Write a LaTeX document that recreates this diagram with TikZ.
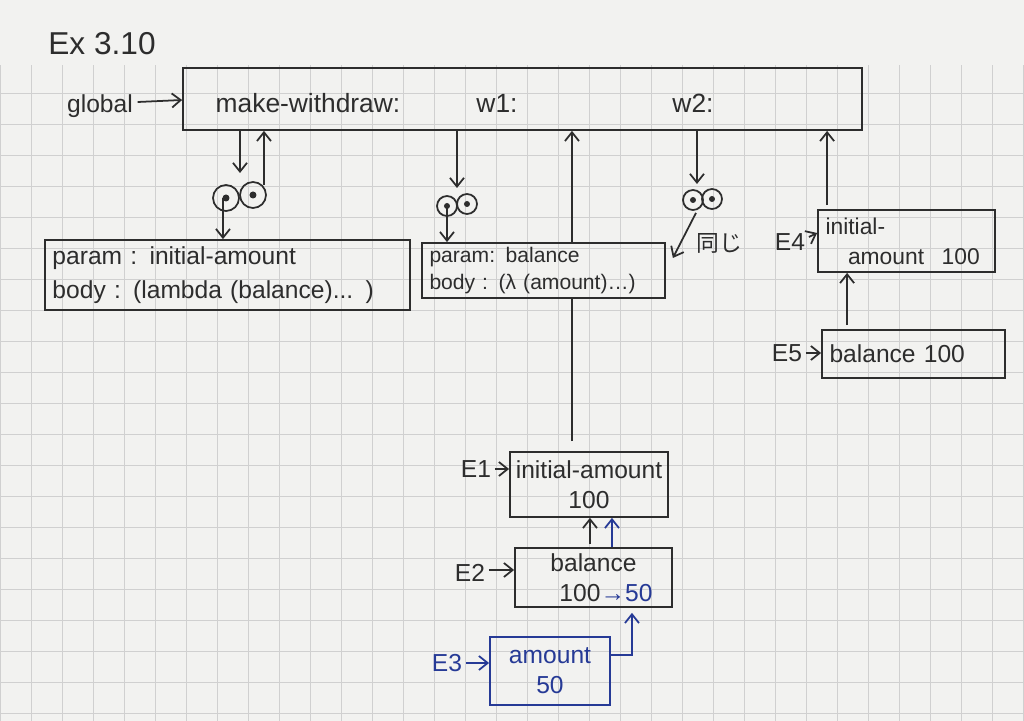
\documentclass[tikz,border=0pt]{standalone}
\usepackage{fontspec}
\setmainfont{Liberation Sans}
\newfontfamily\jpfont{Noto Sans CJK JP}
\usepackage{xcolor}
\usepackage{tikz}
\usetikzlibrary{arrows.meta,calc}
\definecolor{ink}{RGB}{45,45,45}
\definecolor{pen}{RGB}{38,58,150}
\definecolor{paper}{RGB}{242,242,240}
\definecolor{rule}{RGB}{208,208,208}

\begin{document}
\begin{tikzpicture}[scale=0.2, line width=1pt, >={Straight Barb[length=5pt,width=8pt]}, draw=ink]
\tikzstyle{every node}+=[inner sep=0pt, text=ink, font=\fontsize{14}{17}\selectfont]
\tikzstyle{frm}=[draw=ink, line width=1pt, rectangle]
\tikzstyle{cell}=[draw=ink, line width=1pt, circle, minimum size=0.4cm]
\tikzstyle{procbox}=[frm, inner xsep=0.15cm, align=left]
\tikzstyle{envbox}=[frm, align=center]
\tikzstyle{link}=[->, draw=ink, line width=1pt]
% paper
\fill [paper] (0,0) rectangle (102.4,-72.1);
\useasboundingbox (0,0) rectangle (102.4,-72.1);
\draw [rule, line width=0.4pt, step=3.1] (0,-6.5) grid (102.4,-72.1);
\node (title) at (10.2,-4.4) {\fontsize{18}{20}\selectfont Ex 3.10};
% global frame
\node [frm, minimum width=13.58cm, minimum height=1.24cm] (frame) at (52.25,-9.9) {};
\node [font=\fontsize{15}{18}\selectfont] (mw) at (30.8,-10.3) {make-withdraw:};
\node [font=\fontsize{15}{18}\selectfont] (w1) at (49.7,-10.3) {w1:};
\node [font=\fontsize{15}{18}\selectfont] (w2) at (69.3,-10.3) {w2:};
\node (global) at (10,-10.6) {global};
\draw [link] ($(global.east)+(0.4,0.4)$) -- (frame.west |- 0,-10.0);
% make-withdraw
\node [cell, minimum size=0.52cm] (c1a) at (22.6,-19.8) {};
\node [cell, minimum size=0.52cm] (c1b) at (25.3,-19.5) {};
\fill [ink] (c1a) circle (0.35);
\fill [ink] (c1b) circle (0.35);
\node [procbox, text width=7.0cm, minimum height=1.4cm] (box1) at (22.75,-27.5)
  {param : initial-amount\\[2pt]body : (lambda (balance)... )};
\coordinate (c1m) at (24,-17.3);
\coordinate (c1u) at ($(c1b.north)+(1.1,-0.4)$);
\coordinate (c1d) at ($(c1a.center)+(-0.3,0)$);
\draw [link] (c1m |- frame.south) -- (c1m);
\draw [link] (c1u) -- (c1u |- frame.south);
\draw [link] (c1d) -- (c1d |- box1.north);
% w1
\node [cell] (c2a) at (44.7,-20.6) {};
\node [cell] (c2b) at (46.7,-20.4) {};
\fill [ink] (c2a) circle (0.3);
\fill [ink] (c2b) circle (0.3);
\coordinate (c2m) at (45.7,-18.8);
\node [procbox, text width=4.56cm, minimum height=1.1cm, font=\fontsize{12}{15}\selectfont] (box2) at (54.35,-27.05)
  {param: balance\\body : (λ (amount)…)};
\draw [link] (c2m |- frame.south) -- (c2m);
\draw [link] (c2a.center) -- (c2a.center |- box2.north);
% w2
\node [cell] (c3a) at (69.3,-20.0) {};
\node [cell] (c3b) at (71.2,-19.9) {};
\fill [ink] (c3a) circle (0.3);
\fill [ink] (c3b) circle (0.3);
\coordinate (c3m) at (69.7,-18.4);
\draw [link] (c3m |- frame.south) -- (c3m);
\draw [link] ($(c3a.south)+(0.3,-0.2)$) -- ($(box2.east)+(0.7,1.25)$);
\node [font=\jpfont\fontsize{13}{15}\selectfont] (same) at (71.9,-24.3) {同じ};
% E4, E5
\node [procbox, text width=3.24cm, minimum height=1.24cm, font=\fontsize{13}{17}\selectfont] (e4) at (90.65,-24.1)
  {initial-\\\hspace*{0.45cm}amount\hspace*{0.35cm}100};
\node (l4) at (79,-24.2) {E4};
\draw [link] ($(l4.east)+(0.3,0.5)$) -- ($(e4.west)+(0,0.8)$);
\coordinate (e4u) at ($(e4.north west)+(1,0.4)$);
\draw [link] (e4u) -- (e4u |- frame.south);
\node [procbox, text width=3.36cm, minimum height=0.96cm] (e5) at (91.35,-35.4) {balance 100};
\node (l5) at (78.7,-35.3) {E5};
\draw [link] ($(l5.east)+(0.3,0)$) -- (e5.west |- l5);
\coordinate (e5u) at ($(e5.north west)+(2.6,0.4)$);
\draw [link] (e5u) -- (e5u |- e4.south);
% E1
\node [envbox, minimum width=3.16cm, minimum height=1.3cm] (e1) at (58.9,-48.45)
  {initial-amount\\100};
\node (l1) at (47.6,-46.9) {E1};
\draw [link] ($(l1.east)+(0.3,0)$) -- (e1.west |- l1);
\coordinate (e1up) at ($(e1.north)+(-1.7,1.0)$);
\draw [line width=1pt] (e1up) -- (e1up |- box2.south);
\draw [link] (e1up |- box2.north) -- (e1up |- frame.south);
% E2
\node [envbox, minimum width=3.14cm, minimum height=1.18cm] (e2) at (59.35,-57.75)
  {balance\\\hspace*{0.5cm}100\textcolor{pen}{→50}};
\node (l2) at (47,-57.3) {E2};
\draw [link] ($(l2.east)+(0.3,0.3)$) -- ($(e2.west |- l2)+(0,0.3)$);
\coordinate (e2a) at ($(e2.north)+(-0.35,0.3)$);
\coordinate (e2b) at ($(e2.north)+(1.85,0)$);
\draw [link] (e2a) -- (e2a |- e1.south);
\draw [link, draw=pen] (e2b) -- (e2b |- e1.south);
% E3
\node [envbox, draw=pen, minimum width=2.4cm, minimum height=1.36cm, text=pen] (e3) at (55,-67.1)
  {amount\\50};
\node [text=pen] (l3) at (44.7,-66.3) {E3};
\draw [link, draw=pen] ($(l3.east)+(0.3,0)$) -- (e3.west |- l3);
\draw [link, draw=pen] ($(e3.east)+(0,1.6)$) -| ($(e2.south)+(3.85,-0.5)$);
\end{tikzpicture}
\end{document}
